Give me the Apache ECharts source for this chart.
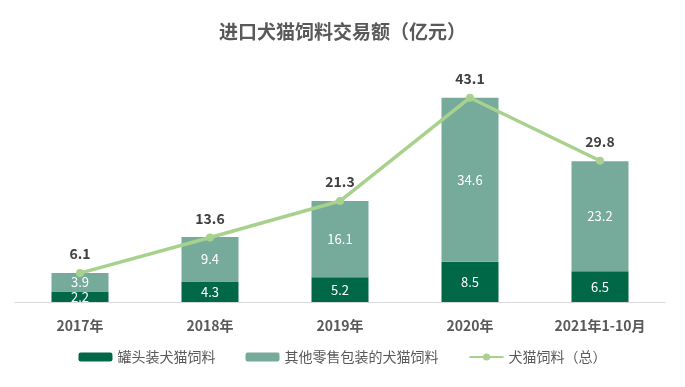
<!DOCTYPE html>
<html><head><meta charset="utf-8">
<script src="https://cdn.jsdelivr.net/npm/echarts@6/dist/echarts.min.js"></script>
<style>html,body{margin:0;padding:0;background:#fff}#c{width:685px;height:387px}</style>
</head><body><div id="c"></div>
<script>
var categories = ['2017年','2018年','2019年','2020年','2021年1-10月'];
var canned = [2.2, 4.3, 5.2, 8.5, 6.5];
var otherRetail = [3.9, 9.4, 16.1, 34.6, 23.2];
var total = [6.1, 13.6, 21.3, 43.1, 29.8];
var seriesNames = ['罐头装犬猫饲料','其他零售包装的犬猫饲料','犬猫饲料（总）'];
var font = '"Microsoft YaHei","Noto Sans CJK SC",sans-serif';
var chart = echarts.init(document.getElementById('c'));
chart.setOption({
  animation:false,
  title:{text:'进口犬猫饲料交易额（亿元）',left:'center',top:17,textStyle:{fontFamily:font,fontSize:19,fontWeight:'bold',color:'#595959'}},
  legend:{bottom:18,itemGap:30,itemWidth:34,itemHeight:9,textStyle:{fontFamily:font,fontSize:14,color:'#595959'},data:seriesNames},
  grid:{left:15,right:20,top:65,bottom:85},
  xAxis:{type:'category',data:categories,axisLine:{lineStyle:{color:'#d9d9d9'}},axisTick:{show:false},
    axisLabel:{margin:17,fontFamily:font,fontSize:14,fontWeight:'bold',color:'#595959'}},
  yAxis:{type:'value',min:0,max:50,show:false,splitLine:{show:false}},
  series:[
    {name:seriesNames[0],type:'bar',stack:'a',data:canned,barWidth:57,itemStyle:{color:'#006747'},
     label:{show:true,position:'inside',color:'#fff',fontFamily:font,fontSize:13}},
    {name:seriesNames[1],type:'bar',stack:'a',data:otherRetail,itemStyle:{color:'#76ab9b'},
     label:{show:true,position:'inside',color:'#fff',fontFamily:font,fontSize:13}},
    {name:seriesNames[2],type:'line',data:total,symbol:'circle',symbolSize:8,
     lineStyle:{color:'#a9d18e',width:3.5},itemStyle:{color:'#a9d18e'},
     label:{show:true,position:'top',distance:8,color:'#404040',fontFamily:font,fontSize:14,fontWeight:'bold'}}
  ]
});
</script></body></html>
